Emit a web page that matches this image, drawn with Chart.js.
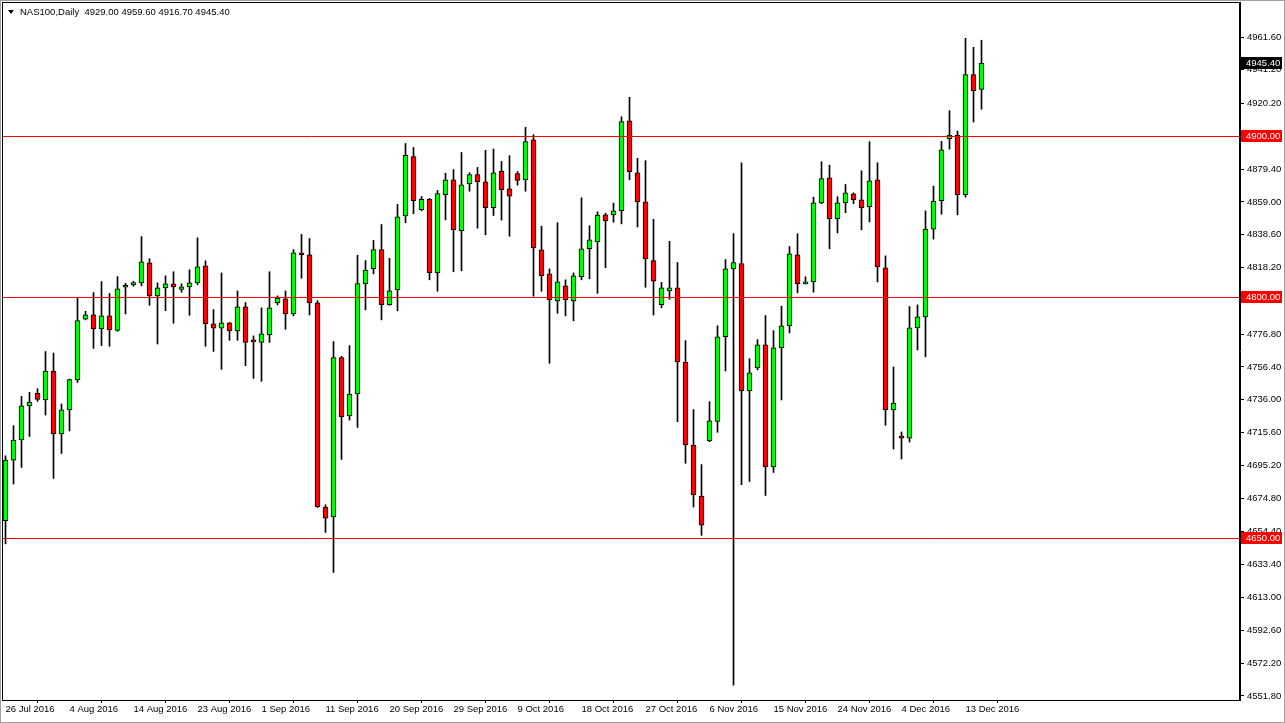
<!DOCTYPE html>
<html><head><meta charset="utf-8"><title>NAS100,Daily</title>
<script src="https://cdn.jsdelivr.net/npm/chart.js@4.4.1/dist/chart.umd.min.js"></script>
<style>html,body{margin:0;background:#fff;overflow:hidden}#wrap{position:relative;width:1285px;height:723px}</style>
</head><body><div id="wrap"><canvas id="c" width="1285" height="723"></canvas></div>
<script>
const symbol='NAS100,Daily';
// one bar per trading session (Sun..Fri), 2016
const dates=['26 Jul','27 Jul','28 Jul','29 Jul','31 Jul','1 Aug','2 Aug','3 Aug','4 Aug','5 Aug','7 Aug','8 Aug','9 Aug','10 Aug','11 Aug','12 Aug',
'14 Aug','15 Aug','16 Aug','17 Aug','18 Aug','19 Aug','21 Aug','22 Aug','23 Aug','24 Aug','25 Aug','26 Aug','28 Aug','29 Aug','30 Aug','31 Aug',
'1 Sep','2 Sep','4 Sep','5 Sep','6 Sep','7 Sep','8 Sep','9 Sep','11 Sep','12 Sep','13 Sep','14 Sep','15 Sep','16 Sep','18 Sep','19 Sep',
'20 Sep','21 Sep','22 Sep','23 Sep','25 Sep','26 Sep','27 Sep','28 Sep','29 Sep','30 Sep','2 Oct','3 Oct','4 Oct','5 Oct','6 Oct','7 Oct',
'9 Oct','10 Oct','11 Oct','12 Oct','13 Oct','14 Oct','16 Oct','17 Oct','18 Oct','19 Oct','20 Oct','21 Oct','23 Oct','24 Oct','25 Oct','26 Oct',
'27 Oct','28 Oct','30 Oct','31 Oct','1 Nov','2 Nov','3 Nov','4 Nov','6 Nov','7 Nov','8 Nov','9 Nov','10 Nov','11 Nov','13 Nov','14 Nov',
'15 Nov','16 Nov','17 Nov','18 Nov','20 Nov','21 Nov','22 Nov','23 Nov','24 Nov','25 Nov','27 Nov','28 Nov','29 Nov','30 Nov','1 Dec','2 Dec',
'4 Dec','5 Dec','6 Dec','7 Dec','8 Dec','9 Dec','11 Dec','12 Dec','13 Dec','14 Dec','15 Dec'];
const open=[4660.8,4698.5,4711.0,4732.2,4740.0,4735.9,4753.9,4714.7,4729.7,4748.3,4786.1,4788.8,4780.1,4788.2,4779.2,4806.0,
4807.5,4808.7,4821.2,4800.6,4805.6,4808.1,4804.7,4806.2,4808.7,4819.3,4783.2,4780.5,4783.8,4778.8,4793.8,4772.2,
4771.7,4776.4,4796.3,4798.8,4789.4,4826.3,4826.1,4796.3,4669.3,4663.2,4762.2,4725.9,4739.6,4808.1,4817.6,4829.4,
4795.0,4804.4,4850.4,4887.3,4854.2,4860.6,4814.9,4863.5,4872.8,4841.1,4870.3,4876.1,4871.6,4855.4,4878.0,4867.2,
4876.6,4872.8,4897.7,4829.3,4814.3,4797.5,4806.9,4797.5,4812.5,4829.9,4834.2,4851.0,4851.0,4853.6,4909.5,4877.1,
4859.1,4822.5,4795.1,4803.7,4805.6,4759.5,4707.9,4676.1,4710.4,4722.6,4775.2,4817.4,4820.7,4741.5,4755.8,4770.1,
4694.2,4768.3,4782.0,4826.1,4808.1,4809.3,4858.5,4874.1,4848.6,4858.5,4864.1,4860.4,4856.0,4872.8,4818.1,4729.7,
4713.5,4712.2,4780.7,4787.6,4842.1,4859.8,4898.4,4900.6,4863.5,4938.2,4929.0];
const high=[4701.2,4719.9,4738.1,4740.6,4742.9,4766.0,4765.1,4733.4,4748.9,4799.1,4791.0,4802.7,4809.5,4802.1,4812.6,4808.5,
4809.7,4837.5,4823.7,4808.7,4813.1,4815.6,4808.1,4816.8,4836.7,4822.4,4792.1,4814.9,4784.0,4803.7,4796.5,4775.7,
4793.2,4815.6,4800.6,4803.7,4829.4,4838.8,4836.3,4797.7,4670.7,4772.2,4763.0,4769.7,4825.9,4822.6,4835.1,4845.0,
4824.0,4857.5,4895.4,4892.9,4862.4,4861.2,4866.2,4876.9,4879.2,4889.8,4877.2,4880.5,4891.1,4891.9,4884.2,4887.8,
4878.0,4905.4,4900.9,4844.0,4817.4,4846.1,4810.6,4814.9,4861.6,4844.2,4852.9,4852.0,4858.3,4912.0,4924.1,4886.2,
4884.7,4848.2,4809.0,4834.5,4821.4,4772.8,4729.9,4695.7,4734.8,4782.0,4823.2,4839.4,4883.4,4761.6,4773.4,4788.4,
4779.0,4794.2,4831.3,4839.2,4812.5,4862.0,4884.0,4881.9,4862.3,4869.9,4864.7,4878.4,4896.5,4883.4,4825.5,4756.4,
4716.0,4794.0,4795.0,4853.5,4868.9,4896.7,4915.8,4903.1,4960.8,4955.2,4959.6];
const low=[4646.4,4683.6,4693.9,4713.2,4735.0,4726.5,4687.1,4702.6,4716.6,4746.8,4785.7,4768.0,4769.7,4769.3,4778.6,4789.4,
4806.6,4806.9,4794.8,4770.7,4791.5,4783.6,4802.9,4788.5,4807.5,4769.3,4766.1,4754.9,4773.0,4773.0,4757.2,4749.3,
4747.5,4771.7,4795.0,4779.8,4788.2,4811.6,4788.8,4669.0,4653.5,4628.6,4698.9,4723.4,4718.8,4791.9,4814.3,4785.7,
4794.8,4791.3,4846.1,4851.7,4853.5,4810.6,4803.5,4847.9,4815.6,4816.2,4865.7,4842.7,4838.6,4850.6,4847.7,4837.7,
4869.5,4865.7,4800.4,4803.5,4758.7,4789.8,4788.2,4785.1,4810.6,4811.2,4802.2,4818.1,4846.4,4845.4,4872.8,4843.5,
4806.0,4788.7,4793.2,4798.5,4722.4,4696.5,4669.3,4651.7,4709.9,4715.8,4753.9,4558.5,4683.2,4685.2,4754.6,4676.5,
4690.8,4735.9,4777.6,4802.5,4808.0,4802.9,4857.9,4829.9,4839.8,4852.3,4857.9,4841.7,4846.6,4809.3,4720.1,4705.4,
4699.2,4709.7,4767.0,4762.7,4835.9,4851.4,4891.9,4851.0,4862.0,4908.7,4916.7];
const close=[4698.5,4711.0,4732.2,4734.6,4736.3,4753.9,4714.7,4729.7,4748.5,4785.3,4788.8,4780.1,4788.2,4779.5,4805.0,4806.2,
4808.9,4821.8,4800.6,4805.6,4808.1,4806.2,4806.2,4808.7,4818.7,4783.2,4780.5,4783.8,4778.8,4793.8,4771.7,4772.0,
4777.0,4793.2,4799.1,4789.4,4827.4,4826.2,4796.3,4669.5,4662.4,4762.2,4725.3,4739.6,4808.3,4816.7,4829.4,4795.2,
4803.7,4849.8,4888.0,4859.8,4860.6,4815.1,4864.3,4872.8,4841.7,4869.7,4876.1,4871.6,4855.4,4877.2,4866.6,4862.6,
4872.4,4896.5,4830.5,4813.1,4798.1,4809.3,4798.1,4813.1,4829.9,4835.5,4850.8,4847.3,4853.5,4909.0,4877.8,4859.1,
4823.6,4809.8,4805.6,4805.6,4759.5,4707.9,4676.8,4658.1,4722.9,4775.2,4817.4,4821.4,4741.5,4752.7,4770.1,4694.2,
4768.3,4782.0,4826.8,4808.1,4809.3,4858.5,4873.5,4848.6,4858.5,4864.7,4860.4,4855.4,4872.2,4818.7,4729.7,4734.0,
4712.2,4780.7,4787.6,4842.1,4859.5,4891.5,4900.6,4863.5,4938.2,4928.2,4945.4];
const yTicks=[4961.60,4941.20,4920.20,4899.80,4879.40,4859.00,4838.60,4818.20,4797.80,4776.80,4756.40,4736.00,4715.60,4695.20,4674.80,4654.40,4633.40,4613.00,4592.60,4572.20,4551.80];
const levels=[4900,4800,4650];

const bull='#00ff00',bear='#ff0000',FONT='"Liberation Sans", Arial, sans-serif',FS=9.5;
const last=close.length-1;
const noPad=s=>{s.paddingTop=0;s.paddingBottom=0;s.paddingLeft=0;s.paddingRight=0};

const mtPlugin={id:'mt',
  beforeDraw(c){const x=c.ctx;x.save();x.fillStyle='#fff';x.fillRect(0,0,c.width,c.height);x.restore()},
  afterDatasetsDraw(c){const x=c.ctx,a=c.chartArea,ys=c.scales.y;x.save();x.strokeStyle='#ff0000';x.lineWidth=1;
    levels.forEach(v=>{const p=Math.round(ys.getPixelForValue(v))+0.5;x.beginPath();x.moveTo(a.left,p);x.lineTo(a.right,p);x.stroke()});x.restore()},
  afterDraw(c){const x=c.ctx,a=c.chartArea,ys=c.scales.y;x.save();
    x.strokeStyle='#000';x.lineWidth=1;x.strokeRect(a.left+0.5,a.top+0.5,a.right-a.left-1,a.bottom-a.top);
    x.strokeStyle='#a0a0a0';x.strokeRect(0.5,0.5,c.width-1,c.height-1);
    x.font=FS+'px '+FONT;x.textBaseline='middle';x.textAlign='left';
    const tag=(v,bg)=>{const p=Math.round(ys.getPixelForValue(v));x.fillStyle=bg;x.fillRect(a.right+1,p-6,41,12);x.fillStyle='#fff';x.fillText(v.toFixed(2),a.right+6,p+0.5)};
    levels.forEach(v=>tag(v,'#ff0000'));tag(close[last],'#000');
    // title
    x.fillStyle='#000';x.beginPath();x.moveTo(8,10);x.lineTo(14,10);x.lineTo(11,14);x.closePath();x.fill();
    x.fillText(symbol+'  '+[open[last],high[last],low[last],close[last]].map(v=>v.toFixed(2)).join(' '),20,12);
    x.restore()}
};

new Chart(document.getElementById('c'),{
  type:'bar',
  data:{datasets:[
    {label:'body',data:dates.map((d,i)=>({x:i,y:[open[i],close[i]]})),backgroundColor:close.map((v,i)=>v>=open[i]?bull:bear),
     borderColor:'#000',borderWidth:1,borderSkipped:false,barThickness:5,minBarLength:2,order:0},
    {label:'wick',data:dates.map((d,i)=>({x:i,y:[low[i],high[i]]})),backgroundColor:'#000',borderWidth:0,barThickness:1,order:1}
  ]},
  options:{responsive:false,animation:false,devicePixelRatio:1,grouped:false,
    layout:{padding:{left:2,top:2,right:0,bottom:0}},
    plugins:{legend:{display:false},tooltip:{enabled:false}},
    scales:{
      x:{type:'linear',position:'bottom',min:-0.4375,max:154.3125,offset:false,
        afterBuildTicks:s=>{s.ticks=dates.map((d,i)=>i).filter(i=>i%8===0).map(v=>({value:v}))},
        afterFit:s=>{s.height=23;noPad(s)},
        grid:{drawOnChartArea:false,drawTicks:true,tickLength:3,color:'#000'},border:{display:true,color:'#000'},
        ticks:{autoSkip:false,maxRotation:0,align:'start',padding:1,color:'#000',font:{family:FONT,size:FS},callback:v=>dates[v]?dates[v]+' 2016':''}},
      y:{position:'right',min:4549.31,max:4983.37,
        afterBuildTicks:s=>{s.ticks=yTicks.map(v=>({value:v}))},
        afterFit:s=>{s.width=45;noPad(s)},
        grid:{drawOnChartArea:false,drawTicks:true,tickLength:4,color:'#000'},border:{display:true,color:'#000'},
        ticks:{padding:3,color:'#000',font:{family:FONT,size:FS},callback:v=>v.toFixed(2)}}
    }},
  plugins:[mtPlugin]
});
</script></body></html>
